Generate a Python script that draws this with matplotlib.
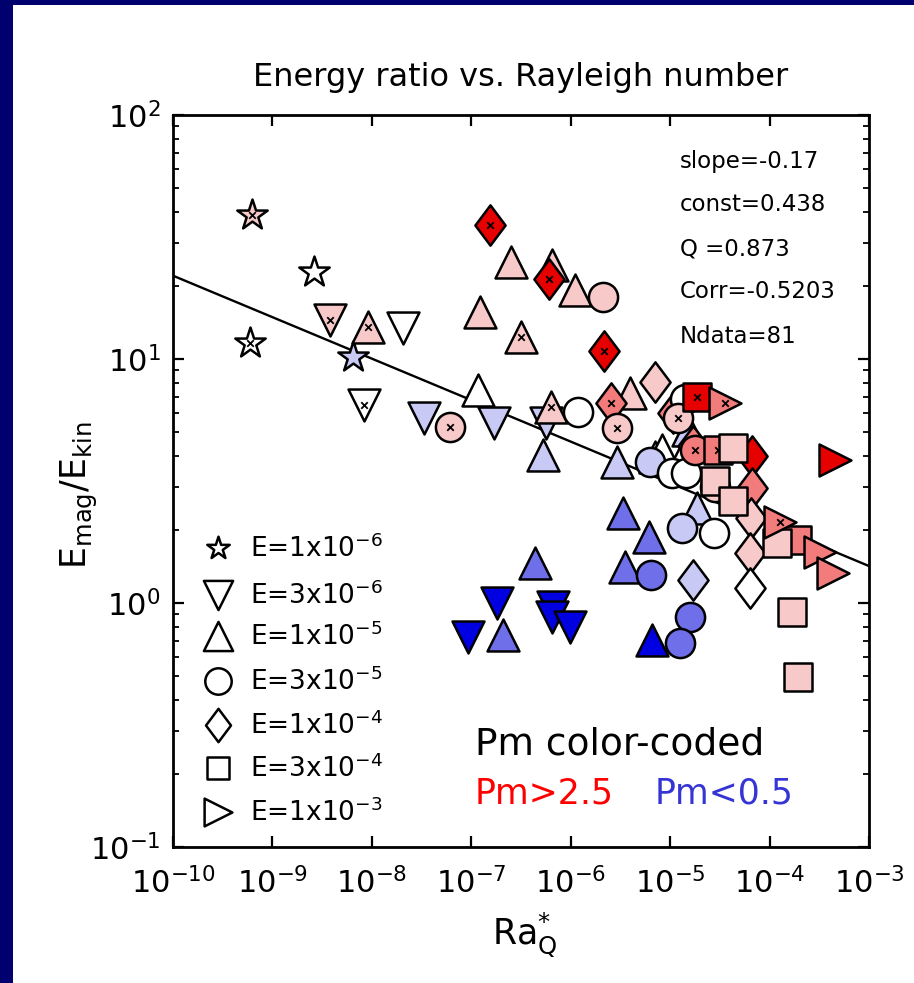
import numpy as np
import matplotlib
matplotlib.use('Agg')
import matplotlib.pyplot as plt
from matplotlib.path import Path
from matplotlib.patches import Rectangle

plt.rcParams['font.family'] = ['DejaVu Sans']
plt.rcParams['mathtext.fontset'] = 'dejavusans'

# ---------------- data ----------------
# Pm colour classes: db (Pm<0.5, dark blue) ... r (Pm>2.5, red)
pm_colors = {'db': '#0000E0', 'mb': '#6F6FEA', 'lb': '#C9C9F5', 'w': '#FFFFFF',
             'lp': '#F7C9C9', 's': '#F27B7B', 'r': '#E60000'}

# E = 1e-6 (stars)
star_x = [6.2e-10, 2.6e-9, 5.9e-10, 6.5e-9]
star_y = [38.9, 22.7, 11.6, 10.2]
star_c = ['lp', 'w', 'w', 'lb']
star_k = [1, 0, 1, 0]

# E = 3e-6 (down triangles)
dtri_x = [3.8e-9, 2.06e-8, 8.3e-9, 3.34e-8, 1.69e-7, 5.64e-7, 1.81e-7, 9.3e-8, 6.64e-7, 6.49e-7, 9.8e-7]
dtri_y = [14.4, 13.4, 6.48, 5.73, 5.47, 5.47, 1.0, 0.726, 0.963, 0.876, 0.797]
dtri_c = ['lp', 'w', 'w', 'lb', 'lb', 'lb', 'db', 'db', 'db', 'db', 'db']
dtri_k = [1, 0, 1, 0, 0, 0, 0, 0, 0, 0, 0]

# E = 1e-5 (up triangles)
utri_x = [9.1e-9, 2.51e-7, 1.22e-7, 3.16e-7, 6.48e-7, 1.10e-6, 1.17e-7, 6.33e-7, 5.26e-7, 3.94e-6,
          2.92e-6, 4.37e-7, 2.08e-7, 3.36e-6, 6.13e-6, 3.51e-6, 6.57e-6, 1.51e-5, 7.04e-6, 8.28e-6,
          1.32e-5, 1.86e-5]
utri_y = [13.5, 25.0, 15.6, 12.3, 24.3, 19.2, 7.46, 6.36, 4.04, 7.26,
          3.78, 1.46, 0.74, 2.34, 1.86, 1.40, 0.705, 5.12, 3.97, 4.24,
          3.93, 2.45]
utri_c = ['lp', 'lp', 'lp', 'lp', 'lp', 'lp', 'w', 'lp', 'lb', 'lp',
          'lb', 'mb', 'mb', 'mb', 'mb', 'mb', 'db', 'lb', 'lb', 'w',
          'w', 'lb']
utri_k = [1, 0, 0, 1, 0, 0, 0, 1, 0, 0,
          0, 0, 0, 0, 0, 0, 0, 0, 0, 0,
          0, 0]

# E = 1e-4 (diamonds)
diam_x = [1.54e-7, 6.05e-7, 2.16e-6, 2.54e-6, 7.04e-6, 1.07e-5, 1.70e-5, 6.65e-5, 6.65e-5, 6.50e-5,
          6.35e-5, 6.35e-5, 1.70e-5]
diam_y = [35.4, 21.3, 10.8, 6.60, 8.05, 6.01, 4.40, 4.00, 2.96, 2.23,
          1.60, 1.15, 1.24]
diam_c = ['r', 'r', 'r', 's', 'lp', 's', 's', 'r', 's', 'lp',
          'lp', 'w', 'lb']
diam_k = [1, 1, 1, 1, 0, 0, 0, 0, 0, 0,
          0, 0, 0]

# E = 3e-5 (circles)
circ_x = [2.11e-6, 6.1e-8, 1.18e-6, 2.92e-6, 6.27e-6, 1.04e-5, 1.44e-5, 1.41e-5, 1.20e-5, 1.78e-5,
          2.83e-5, 1.32e-5, 2.76e-5, 6.42e-6, 1.58e-5, 1.26e-5]
circ_y = [17.9, 5.26, 6.06, 5.21, 3.78, 3.41, 3.41, 6.86, 5.73, 4.24,
          2.99, 2.03, 1.94, 1.30, 0.876, 0.686]
circ_c = ['lp', 'lp', 'w', 'lp', 'lb', 'w', 'w', 'w', 'lp', 's',
          'lp', 'lb', 'w', 'mb', 'mb', 'mb']
circ_k = [0, 1, 0, 1, 0, 0, 0, 0, 1, 1,
          1, 0, 0, 0, 0, 0]

# E = 3e-4 (squares)
sqr_x = [1.86e-5, 3.03e-5, 4.29e-5, 2.83e-5, 4.29e-5, 1.89e-4, 1.19e-4, 1.68e-4, 1.93e-4]
sqr_y = [6.99, 4.24, 4.32, 3.16, 2.62, 1.81, 1.76, 0.919, 0.497]
sqr_c = ['r', 's', 'lp', 'lp', 'lp', 's', 'lp', 'lp', 'lp']
sqr_k = [1, 1, 0, 0, 0, 0, 0, 0, 0]

# E = 1e-3 (right triangles)
rtri_x = [3.56e-5, 4.55e-4, 1.27e-4, 3.21e-4, 4.34e-4]
rtri_y = [6.60, 3.86, 2.15, 1.62, 1.33]
rtri_c = ['s', 'r', 's', 's', 's']
rtri_k = [1, 0, 1, 0, 0]

# fit
fit_slope = -0.17
fit_const = 0.438
stats_lines = ['slope=-0.17', 'const=0.438', 'Q =0.873', 'Corr=-0.5203', 'Ndata=81']

legend_labels = [r'E=1x10$^{-6}$', r'E=3x10$^{-6}$', r'E=1x10$^{-5}$', r'E=3x10$^{-5}$',
                 r'E=1x10$^{-4}$', r'E=3x10$^{-4}$', r'E=1x10$^{-3}$']

# ---------------- figure ----------------
diamond = Path([(0, 1), (0.75, 0), (0, -1), (-0.75, 0), (0, 1)],
               [Path.MOVETO, Path.LINETO, Path.LINETO, Path.LINETO, Path.CLOSEPOLY])

fig = plt.figure(figsize=(9.14, 9.83), dpi=100)
fig.patch.set_facecolor('#00006E')
fig.add_artist(Rectangle((13 / 914, 0), 1, 1 - 5 / 983, transform=fig.transFigure,
                         facecolor='white', edgecolor='none', zorder=-10))

ax = fig.add_axes([173 / 914, 1 - 847 / 983, 696 / 914, 732 / 983])
ax.set_xscale('log')
ax.set_yscale('log')
ax.set_xlim(1e-10, 1e-3)
ax.set_ylim(1e-1, 1e2)

# fit line
xf = np.logspace(-10, -3, 100)
ax.plot(xf, fit_const * xf ** fit_slope, color='black', lw=1.7, zorder=2)

groups = [
    (star_x, star_y, star_c, star_k, '*', 23),
    (dtri_x, dtri_y, dtri_c, dtri_k, 'v', 23),
    (utri_x, utri_y, utri_c, utri_k, '^', 23),
    (diam_x, diam_y, diam_c, diam_k, diamond, 29),
    (circ_x, circ_y, circ_c, circ_k, 'o', 21),
    (sqr_x, sqr_y, sqr_c, sqr_k, 's', 20),
    (rtri_x, rtri_y, rtri_c, rtri_k, '>', 23),
]
z = 3
for gx, gy, gc, gk, mk, ms in groups:
    for xi, yi, ci, ki in zip(gx, gy, gc, gk):
        ax.scatter([xi], [yi], marker=mk, s=ms ** 2, facecolor=pm_colors[ci],
                   edgecolor='black', linewidth=1.8, zorder=z)
        if ki:
            ax.scatter([xi], [yi], marker='x', s=22, color='black', linewidth=1.3, zorder=z + 0.5)
        z += 1

# ticks / spines
for sp in ax.spines.values():
    sp.set_linewidth(2)
ax.tick_params(which='both', direction='in', top=True, right=True, labelsize=22)
ax.tick_params(axis='x', which='major', pad=14)
ax.tick_params(axis='y', which='major', pad=9)
ax.tick_params(which='major', length=8, width=1.6)
ax.tick_params(which='minor', length=4, width=1.3)
ax.set_xticks([10.0 ** k for k in range(-10, -2)])
ax.set_yticks([10.0 ** k for k in range(-1, 3)])

ax.set_title('Energy ratio vs. Rayleigh number', fontsize=23, pad=21)
ax.set_xlabel(r'$\mathrm{Ra}^{*}_{\mathrm{Q}}$', fontsize=25)
ax.set_ylabel(r'$\mathrm{E}_{\mathrm{mag}}/\mathrm{E}_{\mathrm{kin}}$', fontsize=25)
ax.xaxis.set_label_coords(0.5057, -0.086)
ax.yaxis.set_label_coords(-0.105, 0.481)

# stats text
stat_base = [0.9276, 0.8689, 0.8087, 0.7500, 0.6885]
for s, yb in zip(stats_lines, stat_base):
    ax.text(0.7284, yb, s, transform=ax.transAxes, fontsize=16.5, va='baseline', ha='left')

# legend (manual)
leg_markers = ['*', 'v', '^', 'o', diamond, 's', '>']
leg_sizes = [17, 21, 21, 19, 24, 16, 20]
leg_rows = [0.4085, 0.3443, 0.2883, 0.2268, 0.1667, 0.1079, 0.0478]
for mk, ms, yr, lab in zip(leg_markers, leg_sizes, leg_rows, legend_labels):
    ax.scatter([0.0647], [yr], transform=ax.transAxes, marker=mk, s=ms ** 2,
               facecolor='white', edgecolor='black', linewidth=1.8, zorder=50, clip_on=False)
    ax.text(0.1106, yr - 0.0124, lab, transform=ax.transAxes, fontsize=19,
            va='baseline', ha='left', zorder=50)

ax.text(0.4339, 0.1257, 'Pm color-coded', transform=ax.transAxes, fontsize=27,
        color='black', va='baseline', ha='left')
ax.text(0.4339, 0.0601, 'Pm>2.5', transform=ax.transAxes, fontsize=25,
        color='#FF0000', va='baseline', ha='left')
ax.text(0.6925, 0.0601, 'Pm<0.5', transform=ax.transAxes, fontsize=25,
        color='#3535D5', va='baseline', ha='left')

fig.savefig('out.png', dpi=100, facecolor=fig.get_facecolor())
